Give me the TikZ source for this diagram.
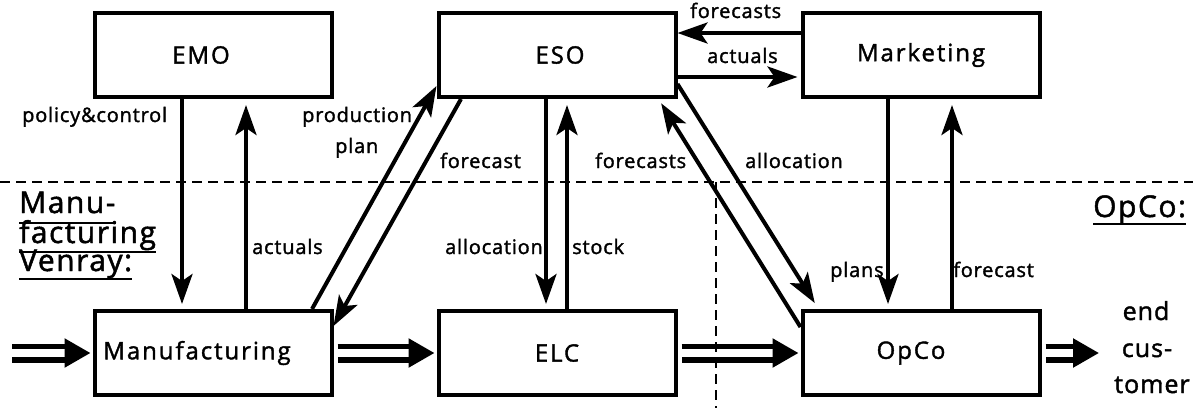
\documentclass[tikz,border=0pt]{standalone}
\usepackage{fontspec}
\setmainfont{Open Sans}[LetterSpace=4, FakeBold=1.6]
\usetikzlibrary{arrows.meta,calc}
\begin{document}
\begin{tikzpicture}[x=1pt,y=-1pt,
  box/.style={draw, line width=4pt, minimum width=237pt, minimum height=84pt, inner sep=0pt,
    font=\fontsize{24}{28}\selectfont\addfontfeature{LetterSpace=8}},
  lab/.style={font=\fontsize{20}{24}\selectfont, inner sep=0pt, anchor=base west},
  arr/.style={line width=4pt, -{Stealth[length=30pt,width=21pt,inset=7pt]}},
  dbl/.style={double, line width=5.5pt, double distance=8pt, -{Triangle[length=26pt,width=28pt]}},
  region/.style={font=\fontsize{30}{32}\selectfont\addfontfeature{LetterSpace=5}, inner sep=0pt, anchor=base west},
  uline/.style={line width=2.8pt},
  cust/.style={font=\fontsize{25}{30}\selectfont, inner sep=0pt, anchor=base},
  divider/.style={line width=2.4pt, dash pattern=on 10pt off 6pt}]
\useasboundingbox (0,0) rectangle (1193,408);

% boxes
\node[box] (EMO) at (213,55) {\hspace*{-24pt}EMO};
\node[box] (ESO) at (557,55) {\hspace*{6pt}ESO};
\node[box] (Mkt) at (921,55) {Marketing};
\node[box] (Man) at (213,353) {\hspace*{-32pt}Manufacturing};
\node[box] (ELC) at (557,353) {ELC};
\node[box] (OpCo) at (921,353) {\hspace*{-20pt}OpCo};

% EMO <-> Manufacturing
\draw[arr, shorten >=5pt] ([xshift=-31pt]EMO.south) -- ([xshift=-31pt]Man.north);
\draw[arr, shorten >=6pt] ([xshift=33pt]Man.north) -- ([xshift=33pt]EMO.south);
% Manufacturing <-> ESO
\draw[arr] ([xshift=99pt]Man.north) -- ([yshift=13pt]ESO.south west);
\draw[arr] ([xshift=-96pt]ESO.south) -- ([yshift=-17pt]Man.north east);
% ESO <-> ELC
\draw[arr, shorten >=5pt] ([xshift=-11pt]ESO.south) -- ([xshift=-11pt]ELC.north);
\draw[arr, shorten >=6pt] ([xshift=10pt]ELC.north) -- ([xshift=10pt]ESO.south);
% ESO <-> OpCo
\draw[arr, shorten >=5pt] ([yshift=-18pt]OpCo.north west) -- ([xshift=-19pt]ESO.south east);
\draw[arr, shorten >=7pt] ([yshift=15pt]ESO.south east) -- ([xshift=18pt]OpCo.north west);
% ESO <-> Marketing
\draw[arr] ([yshift=22pt]Mkt.west) -- ([yshift=22pt]ESO.east);
\draw[arr, shorten >=3pt] ([yshift=-22pt]ESO.east) -- ([yshift=-22pt]Mkt.west);
% Marketing <-> OpCo
\draw[arr, shorten >=5pt] ([xshift=-33pt]Mkt.south) -- ([xshift=-33pt]OpCo.north);
\draw[arr, shorten >=6pt] ([xshift=31pt]OpCo.north) -- ([xshift=31pt]Mkt.south);

% goods flow
\coordinate (in) at (12,353);
\coordinate (out) at (1099,353);
\draw[dbl, shorten >=2pt] (in) -- (Man.west);
\draw[dbl, shorten <=4pt, shorten >=2pt] (Man.east) -- (ELC.west);
\draw[dbl, shorten <=4pt, shorten >=2pt] (ELC.east) -- (OpCo.west);
\draw[dbl, shorten <=4pt] (OpCo.east) -- (out);

% labels
\node[lab] (l1) at (22,122) {policy\&control};
\node[lab] (l2) at (252,254) {actuals};
\node[lab] (l3) at (302,122) {production};
\node[lab] (l4) at (335,153) {plan};
\node[lab] (l5) at (440,168) {forecast};
\node[lab] (l6) at (445,254) {allocation};
\node[lab] (l7) at (572,254) {stock};
\node[lab] (l8) at (595,168) {forecasts};
\node[lab] (l9) at (745,168) {allocation};
\node[lab] (l10) at (690,18) {forecasts};
\node[lab] (l11) at (707,63) {actuals};
\node[lab] (l12) at (830,277) {plans};
\node[lab] (l13) at (953,277) {forecast};

% end customer
\node[cust] (c1) at (1146,320) {end};
\node[cust] (c2) at (1147,357) {cus-};
\node[cust] (c3) at (1152,393) {tomer};

% region labels
\node[region] (r1) at (19,213) {Manu-};
\node[region] (r2) at (19,243) {facturing};
\node[region] (r3) at (19,271) {Venray:};
\node[region] (r4) at (1093,217) {OpCo:};
\draw[uline] ([yshift=-10pt]r1.base west) -- ([yshift=-10pt]r1.base east);
\draw[uline] ([yshift=-9pt]r2.base west) -- ([yshift=-9pt]r2.base east);
\draw[uline] ([yshift=-8pt]r3.base west) -- ([yshift=-8pt]r3.base east);
\draw[uline] ([yshift=-7pt]r4.base west) -- ([yshift=-7pt]r4.base east);

% dividers
\draw[divider] (0,182) -- (1193,182);
\draw[divider] (716,182) -- (716,408);
\end{tikzpicture}
\end{document}
